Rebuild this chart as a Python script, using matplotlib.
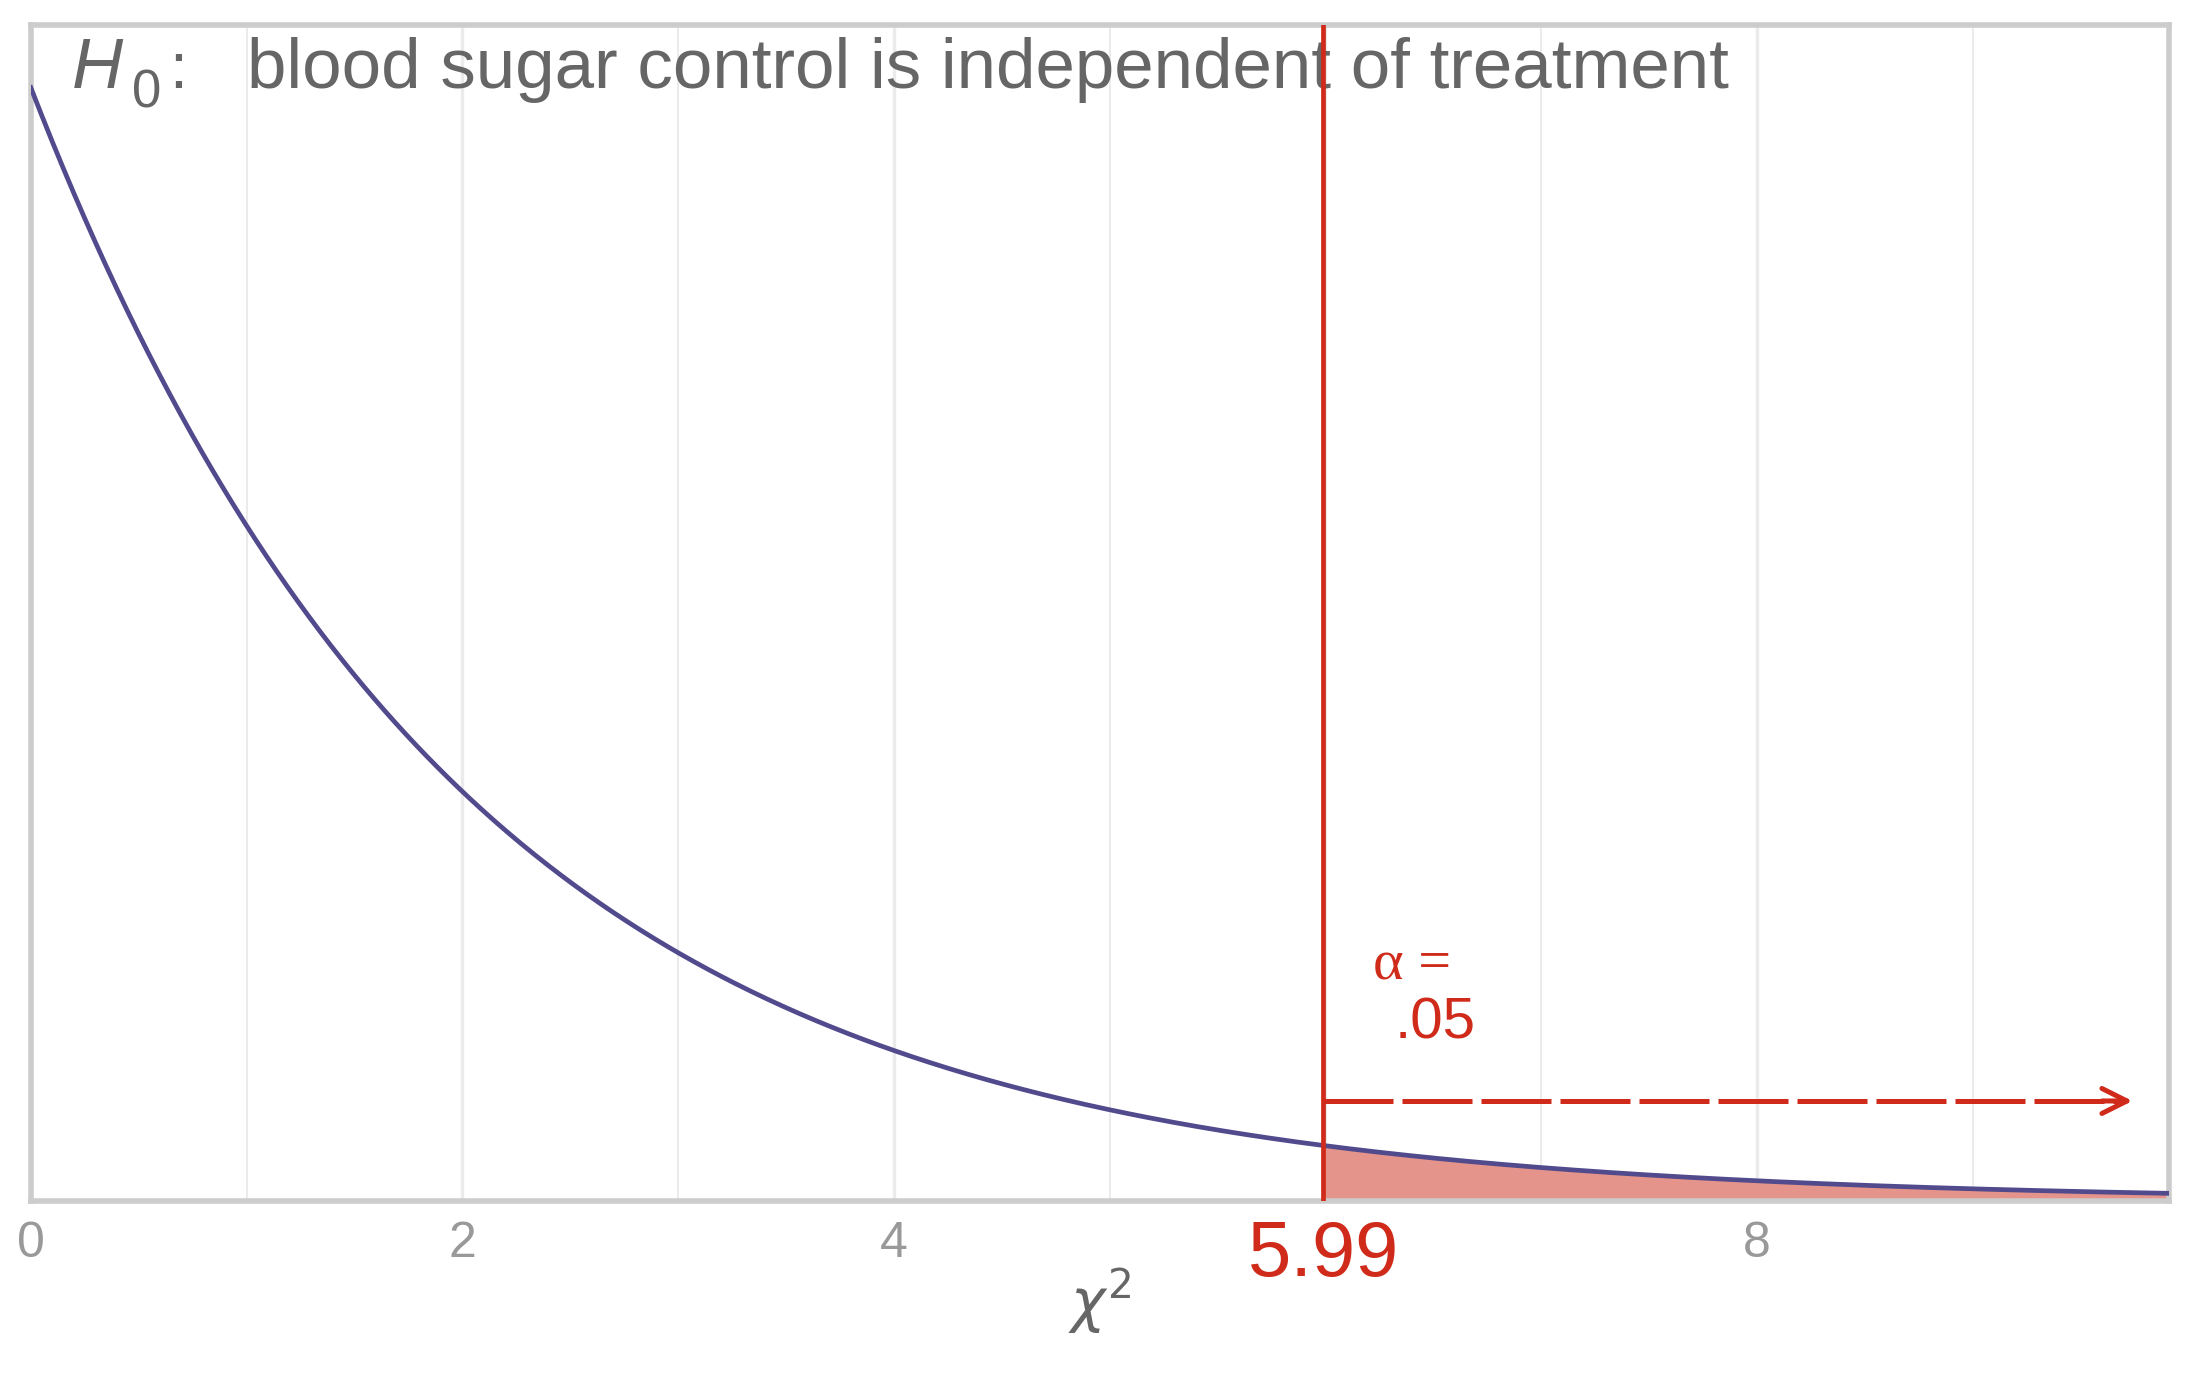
import numpy as np
import matplotlib
matplotlib.use("Agg")
import matplotlib.pyplot as plt
from matplotlib.ticker import MultipleLocator
from math import gamma

# ---- data ----
df_chi = 2                 # degrees of freedom of the chi-square distribution
critical_value = 5.99      # critical chi-square value
alpha_label = ".05"
x_max = 9.91
tick_positions = [0, 2, 4, 8]
tick_labels = ["0", "2", "4", "8"]
arrow_y = 0.045
title_text = "blood sugar control is independent of treatment"

# chi-square density with df degrees of freedom (theoretical curve)
x = np.union1d(np.linspace(0, x_max, 800), [critical_value])
k = df_chi / 2.0
dens = x ** (k - 1) * np.exp(-x / 2) / (2 ** k * gamma(k))

CURVE = "#514A8D"
FILL = "#E4948A"
RED = "#D02B1A"
GREY_T = "#666666"
GREY_TICK = "#999999"

plt.rcParams["font.family"] = ["Liberation Sans", "DejaVu Sans"]
fig = plt.figure(figsize=(11, 7), dpi=200)
ax = fig.add_axes([0.014, 0.142, 0.972, 0.840])

ax.set_xlim(0, x_max)
ax.set_ylim(0, 0.528)

# grid
for v in range(1, 10):
    ax.axvline(v, color="#EBEBEB", lw=1.2 if v % 2 == 0 else 0.7, zorder=0)

# fill tail
mask = x >= critical_value
ax.fill_between(x[mask], 0, dens[mask], color=FILL, lw=0, zorder=1)

# curve
ax.plot(x, dens, color=CURVE, lw=1.7, zorder=3)

# critical line
ax.axvline(critical_value, color=RED, lw=1.7, zorder=4)

# dashed arrow
ax.plot([critical_value, 9.70], [arrow_y, arrow_y], color=RED, lw=1.8,
        dashes=(14, 1.8), zorder=4, dash_capstyle="butt")
ax.annotate("", xy=(9.74, arrow_y), xytext=(9.60, arrow_y),
            arrowprops=dict(arrowstyle="->,head_length=0.9,head_width=0.45",
                            color=RED, lw=1.8, shrinkA=0, shrinkB=0), zorder=4)

# alpha text
ax.text(6.22, 0.106, "α =", color=RED, fontsize=21, family=["Liberation Serif", "DejaVu Serif"],
        va="center", ha="left")
ax.text(6.32, 0.080, alpha_label, color=RED, fontsize=21, va="center", ha="left")

# title
ax.text(0.19, 0.500, "H", color=GREY_T, fontsize=25.5, va="baseline", ha="left",
        style="italic")
ax.text(0.47, 0.491, "0", color=GREY_T, fontsize=19, va="baseline", ha="left")
ax.text(0.64, 0.500, ":", color=GREY_T, fontsize=23, va="baseline", ha="left")
ax.text(1.00, 0.500, title_text, color=GREY_T, fontsize=25.5, va="baseline", ha="left")

# ticks
ax.set_xticks(tick_positions)
ax.set_xticklabels(tick_labels)
ax.tick_params(axis="x", which="both", length=0, labelsize=18, labelcolor=GREY_TICK, pad=7)
ax.set_yticks([])
ax.text(critical_value, -0.008, "5.99", color=RED, fontsize=28, ha="center", va="top",
        transform=ax.transData)

# x label
ax.set_xlabel(r"$\chi^2$", color=GREY_T, fontsize=21, labelpad=0)

for s in ax.spines.values():
    s.set_color("#CCCCCC")
    s.set_linewidth(2.0)

fig.savefig("out.png", dpi=200, facecolor="white")
